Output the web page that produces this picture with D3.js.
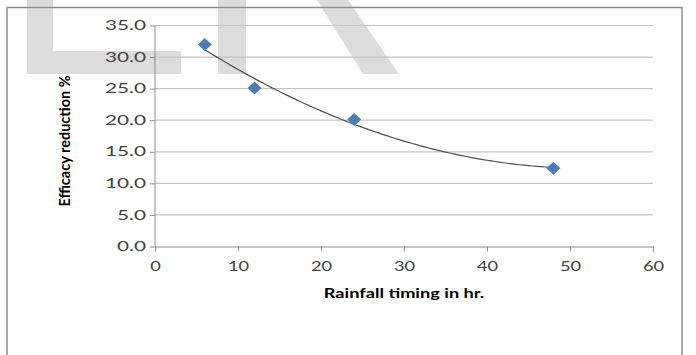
<!DOCTYPE html>
<html>
<head>
<meta charset="utf-8">
<script src="https://cdn.jsdelivr.net/npm/d3@7"></script>
<style>
  body { margin: 0; background: #fff; }
  text { font-family: Lato, "Open Sans", sans-serif; }
</style>
</head>
<body>
<div id="chart"></div>
<script>
const hours = [6, 12, 24, 48];
const reduction = [32.0, 25.1, 20.1, 12.4];
const xTicks = [0, 10, 20, 30, 40, 50, 60];
const yTicks = [0, 5, 10, 15, 20, 25, 30, 35];

const W = 696, H = 355;
const plot = { left: 155, right: 653, top: 25.5, bottom: 246.5 };
// the source picture is stretched sideways, so horizontal text is widened
const stretch = 1.4;

const svg = d3.select("#chart").append("svg")
    .attr("width", W)
    .attr("height", H);

// faint watermark letters behind the chart
const wm = svg.append("g").attr("fill", "#dcdcdc");
wm.append("rect").attr("x", 27).attr("y", 0).attr("width", 26).attr("height", 74);
wm.append("rect").attr("x", 27).attr("y", 51).attr("width", 154).attr("height", 23);
wm.append("rect").attr("x", 218).attr("y", 0).attr("width", 28).attr("height", 74);
wm.append("polygon").attr("points", "317,0 348,0 399,74 363,74");

// outer chart frame
svg.append("rect")
    .attr("x", 7).attr("y", 7.5)
    .attr("width", 675).attr("height", 360)
    .attr("fill", "none")
    .attr("stroke", "#8c8c8c")
    .attr("stroke-width", 1.5);

const x = d3.scaleLinear().domain([0, 60]).range([plot.left, plot.right]);
const y = d3.scaleLinear().domain([0, 35]).range([plot.bottom, plot.top]);

// horizontal gridlines
svg.append("g")
    .selectAll("line")
    .data(yTicks.slice(1))
    .join("line")
    .attr("x1", plot.left).attr("x2", plot.right)
    .attr("y1", d => y(d)).attr("y2", d => y(d))
    .attr("stroke", "#c4c4c4")
    .attr("stroke-width", 1.2);

// axes
const yAxis = svg.append("g")
    .attr("transform", `translate(${plot.left},0)`)
    .call(d3.axisLeft(y).tickValues(yTicks).tickSize(5).tickPadding(4).tickFormat(d3.format(".1f")));
const xAxis = svg.append("g")
    .attr("transform", `translate(0,${plot.bottom})`)
    .call(d3.axisBottom(x).tickValues(xTicks).tickSize(5).tickPadding(10).tickSizeOuter(5));

[yAxis, xAxis].forEach(g => {
    g.select(".domain").attr("stroke", "#8c8c8c");
    g.selectAll(".tick line").attr("stroke", "#8c8c8c");
    g.selectAll("text")
        .attr("fill", "#404040")
        .style("font-size", "13px");
});
yAxis.select(".domain").attr("d", `M0,${y(0)}V${y(35)}`);
yAxis.selectAll(".tick text")
    .attr("x", null)
    .attr("transform", `translate(-9,0) scale(1.6,1)`);
xAxis.selectAll(".tick text")
    .attr("transform", `scale(${stretch},1)`);

// polynomial (order 2) trendline, least squares like the spreadsheet does
function polyFit(xs, ys) {
    const s = k => d3.sum(xs, v => Math.pow(v, k));
    const t = k => d3.sum(xs, (v, i) => Math.pow(v, k) * ys[i]);
    const A = [[s(0), s(1), s(2), t(0)],
               [s(1), s(2), s(3), t(1)],
               [s(2), s(3), s(4), t(2)]];
    for (let i = 0; i < 3; i++) {
        for (let j = i + 1; j < 3; j++) {
            const f = A[j][i] / A[i][i];
            for (let k = i; k < 4; k++) A[j][k] -= f * A[i][k];
        }
    }
    const c = [0, 0, 0];
    for (let i = 2; i >= 0; i--) {
        let v = A[i][3];
        for (let k = i + 1; k < 3; k++) v -= A[i][k] * c[k];
        c[i] = v / A[i][i];
    }
    return c;
}
const coef = polyFit(hours, reduction);
const trend = d3.range(hours[0], hours[hours.length - 1] + 0.01, 0.5)
    .map(h => [h, coef[0] + coef[1] * h + coef[2] * h * h]);

svg.append("path")
    .datum(trend)
    .attr("fill", "none")
    .attr("stroke", "#505050")
    .attr("stroke-width", 1.2)
    .attr("d", d3.line().x(d => x(d[0])).y(d => y(d[1])));

// diamond markers
svg.append("g")
    .selectAll("path")
    .data(hours.map((h, i) => [h, reduction[i]]))
    .join("path")
    .attr("transform", d => `translate(${x(d[0])},${y(d[1])})`)
    .attr("d", "M0,-6.5L7,0L0,6.5L-7,0Z")
    .attr("fill", "#4a7ebb");

// axis titles
svg.append("text")
    .attr("transform", `translate(${(plot.left + plot.right) / 2},298) scale(1.3,1)`)
    .attr("text-anchor", "middle")
    .attr("font-weight", "bold")
    .style("font-size", "14px")
    .text("Rainfall timing in hr.");

svg.append("text")
    .attr("transform", "translate(70,141) rotate(-90)")
    .attr("text-anchor", "middle")
    .attr("font-weight", "bold")
    .style("font-size", "14.5px")
    .text("Efficacy reduction %");
</script>
</body>
</html>
